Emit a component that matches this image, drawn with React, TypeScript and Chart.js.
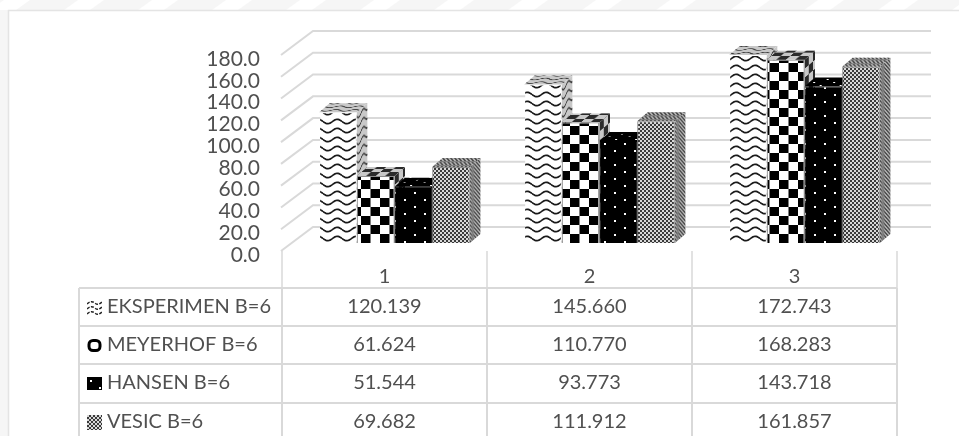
import React, { useEffect, useRef } from "react";
import { Chart, registerables } from "chart.js";

Chart.register(...registerables);

const categories = ["1", "2", "3"];
const seriesNames = ["EKSPERIMEN B=6", "MEYERHOF B=6", "HANSEN B=6", "VESIC B=6"];
const eksperimen = [120.139, 145.66, 172.743];
const meyerhof = [61.624, 110.77, 168.283];
const hansen = [51.544, 93.773, 143.718];
const vesic = [69.682, 111.912, 161.857];
const seriesValues = [eksperimen, meyerhof, hansen, vesic];

const GRID = "#d9d9d9";
const TEXT = "#505050";
const FONT = "Lato";
const DEPTH_X = 10.5;
const DEPTH_Y = 9;

type Tile = HTMLCanvasElement;

function tile(w: number, h: number, paint: (c: CanvasRenderingContext2D) => void): Tile {
  const cv = document.createElement("canvas");
  cv.width = w;
  cv.height = h;
  paint(cv.getContext("2d")!);
  return cv;
}

function makeTiles(): Tile[] {
  const wave = tile(19, 9, (c) => {
    c.fillStyle = "#fff";
    c.fillRect(0, 0, 19, 9);
    c.strokeStyle = "#1a1a1a";
    c.lineWidth = 1.7;
    for (const off of [-9, 0, 9]) {
      c.beginPath();
      for (let x = 0; x <= 19; x++) {
        const y = 4.5 + off + 2.2 * Math.sin((x / 19) * Math.PI * 2);
        if (x === 0) c.moveTo(x, y);
        else c.lineTo(x, y);
      }
      c.stroke();
    }
  });
  const checker = tile(19, 18, (c) => {
    c.fillStyle = "#fff";
    c.fillRect(0, 0, 19, 18);
    c.fillStyle = "#000";
    c.fillRect(0, 0, 9.5, 9);
    c.fillRect(9.5, 9, 9.5, 9);
  });
  const dots = tile(20, 14, (c) => {
    c.fillStyle = "#000";
    c.fillRect(0, 0, 20, 14);
    c.fillStyle = "#fff";
    c.fillRect(4, 3, 2, 2);
    c.fillRect(14, 10, 2, 2);
  });
  const fine = tile(4, 4, (c) => {
    c.fillStyle = "#3a3a3a";
    c.fillRect(0, 0, 4, 4);
    c.fillStyle = "#d8d8d8";
    c.fillRect(0, 0, 2, 2);
    c.fillRect(2, 2, 2, 2);
  });
  return [wave, checker, dots, fine];
}

function fillFace(
  ctx: CanvasRenderingContext2D,
  source: Tile,
  poly: number[][],
  m: number[],
  shade: number
) {
  const p = ctx.createPattern(source, "repeat")!;
  p.setTransform(new DOMMatrix(m));
  ctx.beginPath();
  poly.forEach(([x, y], i) => (i ? ctx.lineTo(x, y) : ctx.moveTo(x, y)));
  ctx.closePath();
  ctx.fillStyle = p;
  ctx.fill();
  ctx.fillStyle = `rgba(110,110,110,${shade})`;
  ctx.fill();
}

function drawSwatch(ctx: CanvasRenderingContext2D, tiles: Tile[], i: number, x: number, y: number) {
  const s = 15;
  ctx.save();
  if (i === 1) {
    ctx.strokeStyle = "#000";
    ctx.lineWidth = 3;
    ctx.beginPath();
    ctx.roundRect(x + 2, y + 2.5, s - 4, s - 5, 4);
    ctx.stroke();
  } else if (i === 0) {
    ctx.beginPath();
    ctx.rect(x, y, s, s);
    ctx.clip();
    ctx.strokeStyle = "#222";
    ctx.lineWidth = 1.4;
    for (const row of [3, 8, 13]) {
      ctx.beginPath();
      ctx.setLineDash([3, 1.5]);
      ctx.moveTo(x, y + row + 1);
      ctx.quadraticCurveTo(x + 4, y + row - 3, x + 8, y + row);
      ctx.quadraticCurveTo(x + 11, y + row + 3, x + 15, y + row - 1);
      ctx.stroke();
    }
  } else if (i === 2) {
    ctx.fillStyle = "#000";
    ctx.fillRect(x, y + 1, s, s - 2);
    ctx.fillStyle = "#fff";
    ctx.fillRect(x + 3, y + 4, 2, 2);
    ctx.fillRect(x + 12, y + 11, 2, 2);
  } else {
    const p = ctx.createPattern(tiles[3], "repeat")!;
    p.setTransform(new DOMMatrix([1, 0, 0, 1, x, y]));
    ctx.fillStyle = p;
    ctx.fillRect(x, y, s, s);
  }
  ctx.restore();
}

const frame3d = (tiles: Tile[]) => ({
  id: "frame3d",
  beforeDraw(chart: any) {
    const { ctx, width, height } = chart;
    ctx.save();
    ctx.fillStyle = "#fff";
    ctx.fillRect(0, 0, width, height);
    // faint backdrop bands outside the chart box
    ctx.fillStyle = "#f6f6f6";
    ctx.fillRect(0, 0, width, 10);
    ctx.fillRect(0, 0, 8, height);
    ctx.fillStyle = "#fff";
    for (let x = -10; x < width; x += 74) {
      ctx.beginPath();
      ctx.moveTo(x, 10);
      ctx.lineTo(x + 14, 0);
      ctx.lineTo(x + 40, 0);
      ctx.lineTo(x + 26, 10);
      ctx.closePath();
      ctx.fill();
    }
    ctx.strokeStyle = "#e4e4e4";
    ctx.lineWidth = 1.5;
    ctx.beginPath();
    ctx.moveTo(8.5, height);
    ctx.lineTo(8.5, 10.5);
    ctx.lineTo(width, 10.5);
    ctx.stroke();
    ctx.restore();
  },
  beforeDatasetsDraw(chart: any) {
    const { ctx, scales } = chart;
    const yScale = scales.y;
    const xScale = scales.x;
    const frontX = 281;
    const rearX = 313;
    const rearRight = 931;

    // receding gridlines and back wall
    ctx.save();
    ctx.strokeStyle = GRID;
    ctx.lineWidth = 2;
    yScale.ticks.forEach((t: any) => {
      const py = yScale.getPixelForValue(t.value);
      ctx.beginPath();
      ctx.moveTo(frontX, py + 8);
      ctx.lineTo(rearX, py - 16);
      ctx.lineTo(rearRight, py - 16);
      ctx.stroke();
    });

    // data table under the plot
    const rows = [288, 326, 364, 403];
    const colStep = xScale.getPixelForValue(1) - xScale.getPixelForValue(0);
    const cols = [0, 1, 2, 3].map((k) => 282 + k * colStep);
    const bottom = chart.height;
    ctx.lineWidth = 1.5;
    cols.forEach((x) => {
      ctx.beginPath();
      ctx.moveTo(x, 251);
      ctx.lineTo(x, 288);
      ctx.stroke();
    });
    ctx.lineWidth = 2;
    rows.forEach((y) => {
      ctx.beginPath();
      ctx.moveTo(79, y);
      ctx.lineTo(cols[3], y);
      ctx.stroke();
    });
    [79, ...cols].forEach((x) => {
      ctx.beginPath();
      ctx.moveTo(x, 288);
      ctx.lineTo(x, bottom);
      ctx.stroke();
    });

    ctx.textBaseline = "middle";
    seriesNames.forEach((name, i) => {
      const cy = rows[i] + 19;
      ctx.font = `20px ${FONT}`;
      ctx.textAlign = "left";
      ctx.fillStyle = TEXT;
      ctx.fillText(name, 107, cy);
      drawSwatch(ctx, tiles, i, 87, cy - 7);
      ctx.fillStyle = TEXT;
      ctx.textAlign = "center";
      seriesValues[i].forEach((v, k) => {
        ctx.fillText(v.toFixed(3), (cols[k] + cols[k + 1]) / 2, cy);
      });
    });

    // side and top faces, left to right so nearer fronts overlap them
    categories.forEach((_, k) => {
      seriesValues.forEach((__, i) => {
        const bar = chart.getDatasetMeta(i).data[k];
        const l = bar.x - bar.width / 2;
        const r = bar.x + bar.width / 2;
        const top = bar.y;
        const base = bar.base;
        const slope = -DEPTH_Y / DEPTH_X;
        // the dotted series stays solid black on its receding faces
        const shade = i === 2 ? 0 : 0.38;
        fillFace(
          ctx,
          tiles[i],
          [
            [r, top],
            [r + DEPTH_X, top - DEPTH_Y],
            [r + DEPTH_X, base - DEPTH_Y],
            [r, base],
          ],
          [0.45, 0.45 * slope, 0, 1, r, top],
          shade
        );
        fillFace(
          ctx,
          tiles[i],
          [
            [l, top],
            [l + DEPTH_X, top - DEPTH_Y],
            [r + DEPTH_X, top - DEPTH_Y],
            [r, top],
          ],
          [1, 0, -0.4 * (DEPTH_X / DEPTH_Y), 0.4, l, top],
          shade
        );
      });
    });
    ctx.restore();
  },
});

export default function App() {
  const ref = useRef<HTMLCanvasElement>(null);

  useEffect(() => {
    document.body.style.margin = "0";
    const ctx = ref.current!.getContext("2d")!;
    const tiles = makeTiles();
    const chart = new Chart(ctx, {
      type: "bar",
      data: {
        labels: categories,
        datasets: seriesNames.map((name, i) => ({
          label: name,
          data: seriesValues[i],
          backgroundColor: ctx.createPattern(tiles[i], "repeat")!,
          borderColor: i === 0 ? "rgba(0,0,0,0)" : i === 2 ? "#000" : "#8c8c8c",
          borderWidth: 1,
          barPercentage: 1,
          categoryPercentage: 0.735,
        })),
      },
      options: {
        animation: false,
        responsive: false,
        layout: { padding: { left: 0, right: 52, top: 47, bottom: 0 } },
        plugins: { legend: { display: false }, tooltip: { enabled: false } },
        scales: {
          x: {
            grid: { display: false },
            border: { display: false },
            ticks: {
              color: TEXT,
              font: { family: FONT, size: 20 },
              padding: 14,
              labelOffset: -10,
              maxRotation: 0,
            },
            afterFit(scale: any) {
              scale.height = 193;
            },
          },
          y: {
            min: 0,
            max: 180,
            grid: { display: false },
            border: { display: false },
            ticks: {
              stepSize: 20,
              autoSkip: false,
              color: TEXT,
              font: { family: FONT, size: 21 },
              padding: 24,
              labelOffset: 12,
              callback: (v: any) => Number(v).toFixed(1),
            },
            afterFit(scale: any) {
              scale.width = 292;
            },
          },
        },
      },
      plugins: [frame3d(tiles)],
    } as any);
    return () => chart.destroy();
  }, []);

  return <canvas ref={ref} width={959} height={436} style={{ display: "block" }} />;
}
